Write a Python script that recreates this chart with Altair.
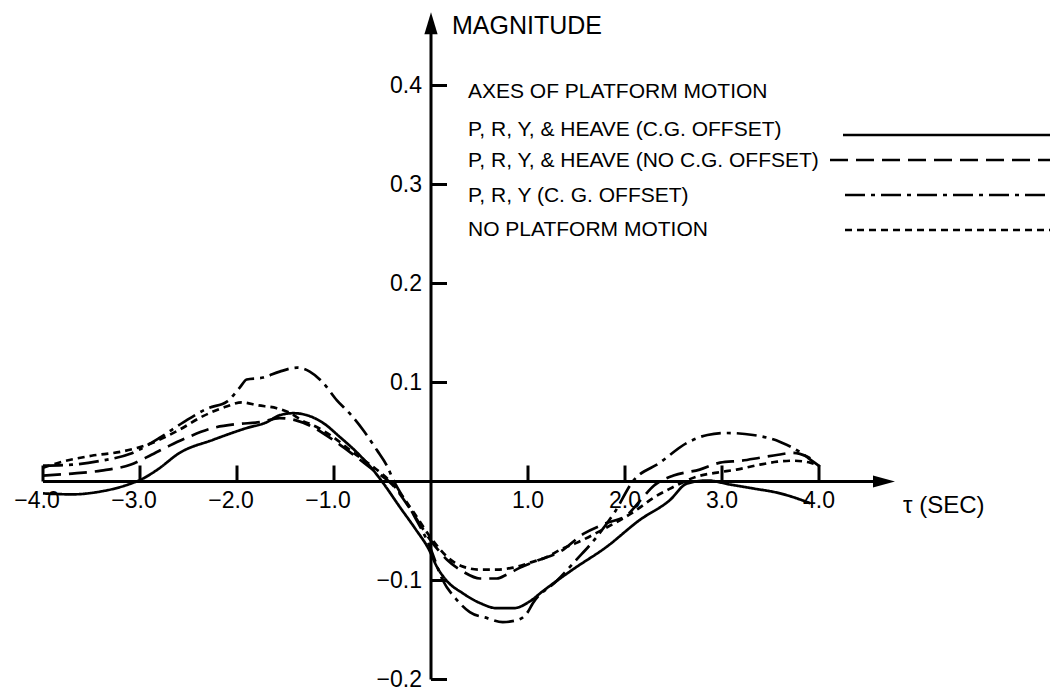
import altair as alt
import pandas as pd

# ---------------- data ----------------
series_names = [
    "P, R, Y, & HEAVE (C.G. OFFSET)",
    "P, R, Y, & HEAVE (NO C.G. OFFSET)",
    "P, R, Y  (C. G. OFFSET)",
    "NO PLATFORM MOTION",
]
legend_title = "AXES OF PLATFORM MOTION"

solid_x = [-4.0, -3.7, -3.4, -3.15, -2.95, -2.82, -2.59, -2.25, -1.90, -1.69,
           -1.56, -1.42, -1.28, -1.11, -0.94, -0.76, -0.60, -0.49, -0.32, -0.16,
           -0.02, 0.06, 0.16, 0.33, 0.51, 0.68, 0.85, 1.02, 1.15, 1.46,
           1.81, 2.15, 2.46, 2.64, 2.85, 3.08, 3.32, 3.60, 3.77, 3.91]
solid_y = [-0.012, -0.013, -0.010, -0.004, 0.004, 0.012, 0.029, 0.042, 0.054, 0.060,
           0.067, 0.069, 0.067, 0.059, 0.045, 0.029, 0.012, -0.002, -0.026, -0.048,
           -0.069, -0.086, -0.100, -0.113, -0.123, -0.128, -0.128, -0.121, -0.111, -0.089,
           -0.066, -0.039, -0.019, -0.002, 0.001, -0.003, -0.007, -0.012, -0.017, -0.022]

longdash_x = [-4.0, -3.7, -3.4, -3.1, -2.9, -2.7, -2.5, -2.25, -2.0, -1.76,
              -1.56, -1.40, -1.22, -1.01, -0.80, -0.60, -0.40, -0.20, 0.0, 0.165,
              0.33, 0.505, 0.68, 0.78, 0.92, 1.12, 1.33, 1.57, 1.81, 2.02,
              2.15, 2.3, 2.5, 2.77, 2.98, 3.2, 3.39, 3.58, 3.73, 3.88, 3.98]
longdash_y = [0.006, 0.008, 0.011, 0.017, 0.026, 0.036, 0.045, 0.054, 0.058, 0.060,
              0.064, 0.062, 0.055, 0.042, 0.027, 0.012, -0.003, -0.030, -0.060, -0.079,
              -0.091, -0.098, -0.098, -0.094, -0.087, -0.079, -0.071, -0.053, -0.042, -0.034,
              -0.020, -0.004, 0.006, 0.012, 0.019, 0.021, 0.024, 0.027, 0.029, 0.025, 0.019]

dashdot_x = [-4.0, -3.7, -3.4, -3.1, -2.8, -2.55, -2.3, -2.1, -1.97, -1.90,
             -1.73, -1.56, -1.38, -1.25, -1.11, -0.97, -0.84, -0.70, -0.56, -0.45,
             -0.39, -0.2, -0.02, 0.12, 0.27, 0.40, 0.58, 0.74, 0.89, 0.99,
             1.05, 1.3, 1.5, 1.7, 1.9, 2.08, 2.36, 2.64, 2.85, 3.05,
             3.32, 3.60, 3.80, 3.94, 4.01]
dashdot_y = [0.016, 0.017, 0.021, 0.028, 0.044, 0.060, 0.074, 0.081, 0.095, 0.103,
             0.105, 0.111, 0.115, 0.111, 0.0995, 0.082, 0.069, 0.052, 0.032, 0.015,
             0.002, -0.030, -0.064, -0.0995, -0.120, -0.132, -0.138, -0.142, -0.140, -0.133,
             -0.123, -0.100, -0.079, -0.057, -0.030, 0.0, 0.019, 0.039, 0.047, 0.049,
             0.047, 0.040, 0.030, 0.020, 0.015]

shortdash_x = [-4.0, -3.8, -3.5, -3.2, -2.9, -2.6, -2.35, -2.1, -1.95, -1.79,
               -1.59, -1.45, -1.32, -1.22, -1.01, -0.80, -0.60, -0.42, -0.2, 0.0,
               0.165, 0.33, 0.505, 0.68, 0.845, 1.02, 1.2, 1.33, 1.5, 1.8,
               2.1, 2.3, 2.45, 2.74, 2.95, 3.15, 3.39, 3.57, 3.73, 3.91, 4.0]
shortdash_y = [0.014, 0.020, 0.026, 0.030, 0.038, 0.052, 0.066, 0.076, 0.080, 0.077,
               0.074, 0.069, 0.061, 0.057, 0.045, 0.029, 0.015, 0.0, -0.028, -0.057,
               -0.076, -0.086, -0.089, -0.089, -0.087, -0.082, -0.076, -0.069, -0.062, -0.047,
               -0.030, -0.016, -0.008, 0.005, 0.009, 0.012, 0.017, 0.020, 0.021, 0.019, 0.016]

x_ticks = [-4.0, -3.0, -2.0, -1.0, 1.0, 2.0, 3.0, 4.0]
x_tick_labels = ["\u22124.0", "\u22123.0", "\u22122.0", "\u22121.0", "1.0", "2.0", "3.0", "4.0"]
y_ticks = [0.4, 0.3, 0.2, 0.1, -0.1, -0.2]
y_tick_labels = ["0.4", "0.3", "0.2", "0.1", "\u22120.1", "\u22120.2"]

# ---------------- layout / style ----------------
FONT = "Liberation Sans"
W, H = 1042, 686
X0, XS = 423.0, 97.0      # plot px of x=0, px per unit
Y0, YS = 473.5, 990.0     # plot px of y=0, px per unit
x_dom = [(0 - X0) / XS, (W - X0) / XS]
y_dom = [(Y0 - H) / YS, Y0 / YS]
xscale = alt.Scale(domain=x_dom, nice=False, zero=False)
yscale = alt.Scale(domain=y_dom, nice=False, zero=False)

dash_styles = [[1, 0], [18, 8], [20, 6, 4, 6], [7, 5]]

def X(f="x"):
    return alt.X(f"{f}:Q", scale=xscale, axis=None)

def Y(f="y"):
    return alt.Y(f"{f}:Q", scale=yscale, axis=None)

# ---------------- curves ----------------
rows = []
for name, xs, ys in zip(series_names,
                        [solid_x, longdash_x, dashdot_x, shortdash_x],
                        [solid_y, longdash_y, dashdot_y, shortdash_y]):
    for i, (xv, yv) in enumerate(zip(xs, ys)):
        rows.append({"series": name, "x": xv, "y": yv, "i": i})
curve_df = pd.DataFrame(rows)

curves = alt.Chart(curve_df).mark_line(
    color="black", strokeWidth=2.7, interpolate="monotone"
).encode(
    x=X(), y=Y(),
    order="i:Q",
    strokeDash=alt.StrokeDash("series:N",
                              scale=alt.Scale(domain=series_names, range=dash_styles),
                              legend=None),
)

# ---------------- axes ----------------
x_arrow_x = 4.67
y_arrow_y = 0.463
xaxis = alt.Chart(pd.DataFrame({"x": [-4.0], "x2": [x_arrow_x], "y": [0.0]})).mark_rule(
    color="black", strokeWidth=3).encode(x=X(), x2="x2:Q", y=Y())
yaxis = alt.Chart(pd.DataFrame({"x": [0.0], "y": [-0.2], "y2": [y_arrow_y]})).mark_rule(
    color="black", strokeWidth=3).encode(x=X(), y=Y(), y2="y2:Q")

xt = alt.Chart(pd.DataFrame({"x": x_ticks, "y": [0.0] * len(x_ticks),
                             "y2": [16 / YS] * len(x_ticks)})).mark_rule(
    color="black", strokeWidth=3).encode(x=X(), y=Y(), y2="y2:Q")
yt = alt.Chart(pd.DataFrame({"y": y_ticks, "x": [0.0] * len(y_ticks),
                             "x2": [16 / XS] * len(y_ticks)})).mark_rule(
    color="black", strokeWidth=3).encode(x=X(), x2="x2:Q", y=Y())

arrow_r = alt.Chart(pd.DataFrame({"x": [x_arrow_x], "y": [0.0]})).mark_point(
    shape="M-1,-0.55L1,0L-1,0.55Z", size=484, filled=True, color="black",
    opacity=1, strokeWidth=0).encode(x=X(), y=Y())
arrow_u = alt.Chart(pd.DataFrame({"x": [0.0], "y": [y_arrow_y]})).mark_point(
    shape="M-0.6,1L0,-1L0.6,1Z", size=484, filled=True, color="black",
    opacity=1, strokeWidth=0).encode(x=X(), y=Y())

neg = [(v, t) for v, t in zip(x_ticks, x_tick_labels) if v < 0]
pos = [(v, t) for v, t in zip(x_ticks, x_tick_labels) if v > 0]
xl_neg = alt.Chart(pd.DataFrame({"x": [v for v, _ in neg], "y": [0.0] * len(neg),
                                 "t": [t for _, t in neg]})).mark_text(
    font=FONT, fontSize=23, align="center", baseline="middle", dy=19, dx=-6,
    color="black").encode(x=X(), y=Y(), text="t:N")
xl_pos = alt.Chart(pd.DataFrame({"x": [v for v, _ in pos], "y": [0.0] * len(pos),
                                 "t": [t for _, t in pos]})).mark_text(
    font=FONT, fontSize=23, align="center", baseline="middle", dy=19,
    color="black").encode(x=X(), y=Y(), text="t:N")
yl = alt.Chart(pd.DataFrame({"y": y_ticks, "x": [0.0] * len(y_ticks),
                             "t": y_tick_labels})).mark_text(
    font=FONT, fontSize=23, align="right", baseline="middle", dx=-9,
    color="black").encode(x=X(), y=Y(), text="t:N")

one = pd.DataFrame({"a": [0]})
ytitle = alt.Chart(one).mark_text(
    text="MAGNITUDE", font=FONT, fontSize=25, align="left", baseline="middle",
    color="black").encode(x=alt.value(444), y=alt.value(18))
xtitle = alt.Chart(one).mark_text(
    text="\u03c4 (SEC)", font=FONT, fontSize=24, align="left", baseline="middle",
    color="black").encode(x=alt.value(895), y=alt.value(498))

# ---------------- legend (drawn) ----------------
legend_layers = [
    alt.Chart(one).mark_text(text=legend_title, font=FONT, fontSize=21, align="left",
                             baseline="middle", color="black").encode(
        x=alt.value(460), y=alt.value(83.5))
]
row_text_y = [122, 153, 188, 222]
row_line_y = [127, 152, 187, 222]
row_line_x0 = [835, 822, 837, 837]
for name, ty, ly, lx, dash in zip(series_names, row_text_y, row_line_y, row_line_x0, dash_styles):
    legend_layers.append(
        alt.Chart(one).mark_text(text=name, font=FONT, fontSize=21, align="left",
                                 baseline="middle", color="black").encode(
            x=alt.value(460), y=alt.value(ty)))
    legend_layers.append(
        alt.Chart(one).mark_rule(color="black", strokeWidth=2.4, strokeDash=dash).encode(
            x=alt.value(lx), x2=alt.value(W), y=alt.value(ly)))

chart = alt.layer(
    curves, xaxis, yaxis, xt, yt, arrow_r, arrow_u, xl_neg, xl_pos, yl,
    ytitle, xtitle, *legend_layers
).properties(
    width=W, height=H,
    autosize=alt.AutoSizeParams(type="none"),
    padding=0,
    background="white",
).configure_view(stroke=None)

chart.save("out.html", embed_options={"renderer": "svg", "actions": False})
